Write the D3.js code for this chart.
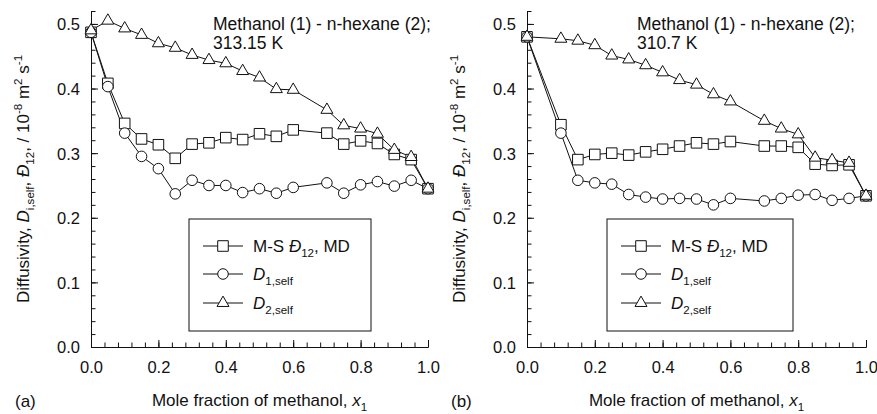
<!DOCTYPE html>
<html>
<head>
<meta charset="utf-8">
<script src="https://cdn.jsdelivr.net/npm/d3@7"></script>
<style>
  body { margin: 0; background: #fff; }
  svg text { font-family: "Liberation Sans", Arial, Helvetica, sans-serif; fill: #111; }
</style>
</head>
<body>
<svg id="chart" width="877" height="414"></svg>
<script>
// Tick labels
const xMajor = [0, 0.2, 0.4, 0.6, 0.8, 1.0];
const yMajor = [0, 0.1, 0.2, 0.3, 0.4, 0.5];

// Panel (a): 313.15 K
const xA = [0, 0.05, 0.1, 0.15, 0.2, 0.25, 0.3, 0.35, 0.4, 0.45, 0.5, 0.55, 0.6, 0.7, 0.75, 0.8, 0.85, 0.9, 0.95, 1.0];
const msA = [0.487, 0.408, 0.346, 0.322, 0.313, 0.292, 0.314, 0.316, 0.324, 0.321, 0.330, 0.326, 0.336, 0.331, 0.314, 0.319, 0.315, 0.298, 0.290, 0.245];
const d1A = [0.487, 0.403, 0.331, 0.295, 0.276, 0.237, 0.258, 0.250, 0.250, 0.239, 0.245, 0.238, 0.247, 0.254, 0.238, 0.251, 0.256, 0.249, 0.258, 0.245];
const d2A = [0.490, 0.505, 0.493, 0.483, 0.470, 0.463, 0.452, 0.444, 0.439, 0.427, 0.417, 0.399, 0.398, 0.367, 0.343, 0.338, 0.330, 0.305, 0.294, 0.245];

// Panel (b): 310.7 K
const xB = [0, 0.1, 0.15, 0.2, 0.25, 0.3, 0.35, 0.4, 0.45, 0.5, 0.55, 0.6, 0.7, 0.75, 0.8, 0.85, 0.9, 0.95, 1.0];
const msB = [0.480, 0.344, 0.290, 0.298, 0.300, 0.297, 0.302, 0.306, 0.311, 0.316, 0.314, 0.318, 0.311, 0.311, 0.309, 0.283, 0.281, 0.282, 0.234];
const d1B = [0.480, 0.331, 0.258, 0.254, 0.252, 0.236, 0.232, 0.229, 0.230, 0.229, 0.220, 0.230, 0.226, 0.230, 0.235, 0.236, 0.227, 0.230, 0.234];
const d2B = [0.480, 0.477, 0.474, 0.467, 0.451, 0.445, 0.436, 0.425, 0.413, 0.406, 0.391, 0.380, 0.350, 0.338, 0.329, 0.293, 0.289, 0.285, 0.234];

const INK = "#111";
const svg = d3.select("#chart");

/**
 * Appends a text made of parts (italic, subscript, superscript)
 */
function richText(g, x, y, parts, size) {
  const t = g.append("text").attr("x", x).attr("y", y).style("font-size", size + "px");
  let shift = 0;
  parts.forEach(function (p) {
    const s = p.sub ? size * 0.32 : p.sup ? -size * 0.42 : 0;
    const ts = t.append("tspan").text(p.t).attr("dy", s - shift);
    if (p.sub || p.sup) ts.style("font-size", size * 0.68 + "px");
    if (p.it) ts.style("font-style", "italic");
    shift = s;
  });
  return t;
}

const yLabelParts = [
  { t: "Diffusivity, " }, { t: "D", it: true }, { t: "i,self", sub: true },
  { t: ", " }, { t: "\u0110", it: true }, { t: "12", sub: true },
  { t: ", / 10" }, { t: "-8", sup: true }, { t: " m" }, { t: "2", sup: true },
  { t: " s" }, { t: "-1", sup: true }
];
const xLabelParts = [{ t: "Mole fraction of methanol, " }, { t: "x", it: true }, { t: "1", sub: true }];
const legendParts = [
  [{ t: "M-S " }, { t: "\u0110", it: true }, { t: "12", sub: true }, { t: ", MD" }],
  [{ t: "D", it: true }, { t: "1,self", sub: true }],
  [{ t: "D", it: true }, { t: "2,self", sub: true }]
];

const symbols = [
  { type: d3.symbolSquare, size: 112 },
  { type: d3.symbolCircle, size: 88 },
  { type: d3.symbolTriangle, size: 62 }
];

function drawPanel(p) {
  const g = svg.append("g");
  const x = d3.scaleLinear().domain([0, 1]).range([p.left, p.right]);
  const y = d3.scaleLinear().domain([0, 0.52]).range([347, 11]);

  // Minor ticks
  g.append("g")
    .attr("transform", "translate(0,347)")
    .call(d3.axisBottom(x).tickValues(d3.range(0, 1.0001, 0.04)).tickSize(-4.5).tickSizeOuter(0).tickFormat(""));
  g.append("g")
    .attr("transform", "translate(" + p.left + ",0)")
    .call(d3.axisLeft(y).tickValues(d3.range(0, 0.5201, 0.02)).tickSize(-4.5).tickSizeOuter(0).tickFormat(""));

  // Major ticks + labels
  const xa = g.append("g")
    .attr("transform", "translate(0,347)")
    .call(d3.axisBottom(x).tickValues(xMajor).tickSize(-7).tickSizeOuter(0).tickFormat(d3.format(".1f")));
  xa.selectAll("text").attr("y", 14).style("font-size", "16.5px");
  const ya = g.append("g")
    .attr("transform", "translate(" + p.left + ",0)")
    .call(d3.axisLeft(y).tickValues(yMajor).tickSize(-7).tickSizeOuter(0).tickFormat(d3.format(".1f")));
  ya.selectAll("text").attr("x", -11).attr("dy", "0.36em").style("font-size", "16.5px");

  g.selectAll(".domain, .tick line").attr("stroke", INK).attr("stroke-width", 1);
  g.selectAll(".tick text").attr("fill", INK).style("font-family", null);

  // Series
  p.series.forEach(function (vals) {
    const pts = p.xs.map(function (d, j) { return [d, vals[j]]; });
    g.append("path")
      .datum(pts)
      .attr("fill", "none")
      .attr("stroke", INK)
      .attr("stroke-width", 1)
      .attr("d", d3.line().x(function (d) { return x(d[0]); }).y(function (d) { return y(d[1]); }));
  });
  p.series.forEach(function (vals, i) {
    const pts = p.xs.map(function (d, j) { return [d, vals[j]]; });
    g.append("g")
      .selectAll("path")
      .data(pts)
      .enter()
      .append("path")
      .attr("d", d3.symbol().type(symbols[i].type).size(symbols[i].size))
      .attr("transform", function (d) { return "translate(" + x(d[0]) + "," + y(d[1]) + ")"; })
      .attr("fill", "#fff")
      .attr("stroke", INK)
      .attr("stroke-width", 1);
  });

  // Annotation
  g.append("text").attr("x", p.noteX).attr("y", 30).style("font-size", "17.5px").text("Methanol (1) - n-hexane (2);");
  g.append("text").attr("x", p.noteX).attr("y", 49).style("font-size", "17.5px").text(p.temp);

  // Legend
  const lg = g.append("g");
  lg.append("rect")
    .attr("x", p.legX).attr("y", 219).attr("width", p.legW).attr("height", 112)
    .attr("fill", "#fff").attr("stroke", INK).attr("stroke-width", 1);
  [246, 274, 303].forEach(function (cy, i) {
    lg.append("line")
      .attr("x1", p.legX + 14).attr("x2", p.legX + 54).attr("y1", cy).attr("y2", cy)
      .attr("stroke", INK).attr("stroke-width", 1);
    lg.append("path")
      .attr("d", d3.symbol().type(symbols[i].type).size(symbols[i].size))
      .attr("transform", "translate(" + (p.legX + 34) + "," + cy + ")")
      .attr("fill", "#fff").attr("stroke", INK).attr("stroke-width", 1);
    richText(lg, p.legX + 64, cy + 6, legendParts[i], 17);
  });

  // Axis titles
  richText(g, (p.left + p.right) / 2, 406, xLabelParts, 17).attr("text-anchor", "middle");
  richText(g, 0, 0, yLabelParts, 17)
    .attr("text-anchor", "middle")
    .attr("transform", "translate(" + (p.left - 62) + ",179)rotate(-90)");

  // Panel tag
  g.append("text").attr("x", p.left - 76).attr("y", 407).style("font-size", "17px").text(p.tag);
}

drawPanel({
  left: 91, right: 428, xs: xA, series: [msA, d1A, d2A],
  noteX: 213, temp: "313.15 K", legX: 189, legW: 182, tag: "(a)"
});
drawPanel({
  left: 527, right: 866, xs: xB, series: [msB, d1B, d2B],
  noteX: 637, temp: "310.7 K", legX: 607, legW: 186, tag: "(b)"
});
</script>
</body>
</html>
